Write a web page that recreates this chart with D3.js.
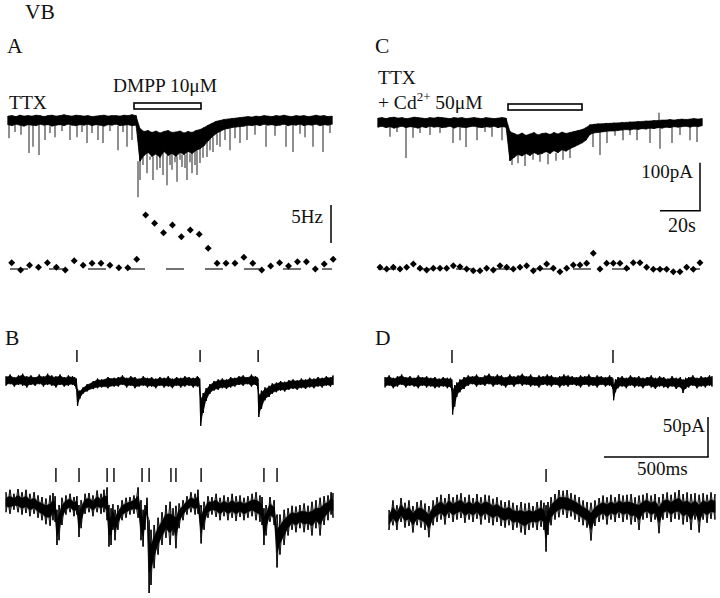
<!DOCTYPE html>
<html><head><meta charset="utf-8">
<script src="https://cdn.jsdelivr.net/npm/d3@7"></script>
<style>
body{margin:0;background:#fff}
svg{display:block}
text{font-family:"Liberation Serif","Times New Roman",serif;fill:#111}
</style></head>
<body><svg id="c" width="720" height="598"></svg>
<script>
// ---------------- DATA ----------------
// Panel A / C slow traces: 2 s sampling, current in pA (upper / lower edge of noise band)
const stepAC = 2;
const traceA_hi = [4,5,3,6,4,5,4,6,5,3,5,6,4,5,7,5,4,6,5,4,5,3,4,5,6,4,5,5,4,6,5,7,5,
  -22,-28,-26,-30,-27,-31,-28,-26,-30,-29,-27,-31,-28,-30,-26,-24,
  -20,-15,-11,-7,-5,-3,-2,-1,0,1,
  2,3,2,4,3,5,4,3,5,4,6,4,3,5,4,5,3,4,6,4,5,3,4];
const traceA_lo = [-14,-16,-13,-15,-17,-14,-15,-16,-13,-15,-14,-17,-15,-14,-16,-13,-15,-16,-14,-15,-13,-16,-14,-15,-17,-14,-15,-13,-16,-15,-14,-16,-15,
  -90,-78,-72,-80,-75,-82,-70,-78,-74,-80,-72,-76,-70,-74,-68,-64,
  -58,-48,-40,-33,-28,-24,-22,-20,-19,-18,
  -17,-15,-16,-14,-16,-13,-15,-14,-16,-15,-13,-16,-14,-15,-13,-16,-14,-15,-13,-16,-14,-15,-13];
// miniature events in A: time (s), peak (pA)
const spikesA_t = [0.5,3.5,6.5,10.5,12.5,15.5,18.5,21,23.5,27,31,34.5,37,39.5,42,45,47.5,51,55,57.5,59.5,62,
  65,66,67.5,69.5,71,72.5,74.5,76,77.5,79.5,81,82,83.5,84.5,86,87,88.5,89.5,91,92,93.5,94.5,96,97.5,
  99.5,101,102.5,104.5,106,108.5,111,113.5,116,119.5,123.5,129,133.5,139,142.5,146,148.5,152.5,157.5,161];
const spikesA_v = [-42,-29,-35,-73,-60,-77,-46,-31,-40,-27,-46,-40,-29,-52,-31,-46,-52,-27,-67,-29,-60,-46,
  -165,-129,-98,-115,-87,-129,-108,-104,-119,-140,-98,-108,-92,-133,-87,-102,-104,-129,-92,-115,-98,-119,-94,-83,
  -81,-67,-71,-56,-60,-46,-67,-42,-52,-46,-35,-60,-37,-60,-71,-33,-40,-60,-71,-31];

const traceC_hi = [4,5,3,5,6,4,5,3,4,6,5,4,3,5,4,6,5,4,3,5,4,5,3,4,5,4,3,5,4,3,4,5,4,
  -24,-28,-31,-27,-32,-29,-26,-31,-28,-27,-30,-26,-29,-25,-28,-26,
  -24,-22,-20,-16,-10,-9,-8,-8,-7,-7,
  -6,-6,-5,-5,-4,-4,-3,-3,-2,-2,-1,-1,0,0,1,0,1,2,1,2,3,2,3];
const traceC_lo = [-15,-13,-16,-14,-17,-15,-13,-16,-14,-15,-17,-14,-16,-13,-15,-14,-16,-15,-13,-17,-14,-15,-16,-14,-13,-15,-16,-14,-15,-13,-16,-14,-15,
  -85,-78,-72,-75,-70,-74,-68,-72,-70,-66,-70,-64,-68,-62,-65,-60,
  -56,-52,-48,-42,-30,-27,-26,-25,-24,-23,
  -23,-22,-21,-20,-21,-19,-20,-18,-19,-17,-18,-16,-17,-15,-16,-14,-15,-14,-13,-15,-13,-14,-12];
const spikesC_t = [6,9.5,14,17.5,21,26,31,37.5,41,44,49.5,53.5,57,62,
  67,70,73.5,77.5,81,85,89,92.5,96,
  107.5,111,114.5,118.5,122.5,126,129.5,136,141,147,151,156,159.5,140.5];
const spikesC_v = [-35,-25,-79,-37,-27,-31,-27,-48,-42,-56,-42,-25,-35,-42,
  -94,-90,-96,-83,-87,-92,-85,-83,-79,
  -56,-73,-48,-33,-42,-31,-42,-48,-60,-48,-31,-42,-46,15];

// drug application bars (s)
const drugA = [63, 96.5];
const drugC = [65, 102];

// event frequency (Hz) per bin
const freqA_bin = 4.465, freqA_t0 = 1.85;
const freqA = [1.49,0.53,1.14,0.88,1.49,0.88,0.53,1.75,1.14,1.41,1.41,1.14,0.83,0.83,1.93,
  7.76,6.67,5.43,6.45,4.91,5.79,5.22,3.38,
  1.41,1.41,1.41,2.2,1.41,0.53,1.05,1.49,1.05,1.62,1.62,0.66,1.32,1.93];
const freqC_bin = 3.333, freqC_t0 = 1;
const freqC = [0.88,0.66,0.88,0.66,0.88,1.32,0.75,0.53,0.75,0.75,0.75,1.09,0.96,0.66,0.43,0.43,0.75,0.53,1.09,0.88,0.66,0.88,1.09,0.43,0.75,1.32,
  0.75,0.30,0.75,1.18,1.18,1.41,2.72,0.66,1.41,1.41,1.41,0.75,1.49,1.49,0.88,0.62,0.62,0.62,0.30,0.30,0.88,0.62,1.49];
const freqBaseline = 0.66;

// Panel B / D fast traces: [time ms, upper pA, lower pA]
const traceB1 = [[0,6,-6],[20,8,-4],[40,5,-7],[60,7,-5],[80,9,-6],[100,6,-8],[120,7,-5],[140,5,-6],[160,8,-4],[180,6,-7],[200,9,-5],[220,7,-6],[240,6,-8],[260,8,-5],[280,5,-7],[300,7,-6],[320,6,-5],
  [330,5,-6],[338,3,-10],[344,-10,-31],[355,-12,-22],[370,-8,-16],[390,-4,-13],[420,0,-10],[440,3,-9],[460,2,-8],[490,5,-9],[520,4,-7],
  [540,5,-7],[560,7,-5],[580,4,-8],[600,6,-6],[620,5,-9],[640,3,-7],[660,6,-6],[680,4,-8],[700,5,-7],[720,3,-9],[740,5,-6],[760,4,-8],[780,6,-7],[800,3,-9],[820,5,-6],[840,4,-8],[860,6,-7],[880,5,-6],[900,4,-8],[920,6,-7],
  [925,5,-6],[931,3,-12],[936,-20,-56],[948,-15,-40],[962,-9,-25],[980,-4,-16],[1000,0,-12],[1020,2,-11],[1040,3,-9],[1060,2,-10],[1080,5,-8],[1100,4,-7],
  [1120,6,-5],[1140,7,-6],[1160,5,-4],[1180,8,-7],[1200,6,-5],
  [1206,5,-6],[1211,3,-10],[1215,-16,-45],[1228,-12,-35],[1245,-8,-24],[1265,-6,-20],[1280,-3,-16],[1300,-2,-14],[1320,0,-12],[1340,-1,-13],[1360,1,-11],[1380,2,-10],[1400,1,-11],[1420,3,-9],[1440,2,-10],[1460,4,-8],[1480,3,-9],[1500,5,-7],[1520,4,-8],[1540,6,-6],[1560,5,-7],[1572,7,-5]];
const ticksB1 = [341, 933, 1212];

const traceB2 = [[0,16,-9],[19,19,-11],[38,14,-6],[58,20,-9],[77,16,-12],[96,19,-10],[115,14,-14],[135,16,-11],[154,12,-16],[173,10,-19],[192,8,-24],[212,12,-26],[226,15,-19],[236,11,-21],[245,-6,-50],[255,0,-44],[269,9,-25],[288,12,-12],[308,14,-9],[327,10,-14],[341,11,-12],[351,0,-40],[361,6,-29],[380,14,-11],[399,15,-9],[418,12,-14],[438,18,-9],[457,14,-11],[471,19,-9],[486,22,-19],[495,0,-52],[505,-4,-50],[514,1,-31],[524,-6,-44],[538,0,-31],[558,6,-19],[577,9,-16],[596,10,-12],[615,12,-11],[635,22,-16],[649,6,-44],[659,-6,-52],[668,0,-31],[678,9,-12],[688,-19,-110],[697,-31,-100],[712,-25,-79],[731,-16,-62],[750,-9,-50],[769,0,-41],[789,4,-50],[803,-4,-38],[817,-1,-54],[832,2,-29],[851,6,-19],[870,11,-12],[889,16,-9],[909,14,-12],[923,19,-11],[938,0,-48],[952,4,-31],[971,11,-16],[990,10,-12],[1010,14,-15],[1029,9,-19],[1048,12,-14],[1067,10,-19],[1087,14,-16],[1106,11,-20],[1125,12,-15],[1144,9,-19],[1163,11,-16],[1183,14,-14],[1202,16,-19],[1221,12,-21],[1231,10,-25],[1240,-4,-50],[1250,0,-38],[1269,10,-21],[1289,6,-25],[1303,-12,-78],[1317,-12,-62],[1337,-6,-50],[1356,-4,-38],[1375,-1,-31],[1394,-2,-34],[1413,0,-29],[1433,2,-34],[1452,-1,-31],[1471,4,-38],[1490,6,-29],[1510,9,-38],[1529,11,-25],[1548,12,-19],[1563,16,-12],[1572,15,-16]];
const ticksB2 = [240, 351, 486, 519, 654, 688, 793, 817, 938, 1240, 1303];

const traceD1 = [[0,5,-8],[20,7,-6],[40,4,-9],[60,6,-7],[80,8,-5],[100,5,-8],[120,6,-6],[140,4,-7],[160,7,-9],[180,5,-6],[200,6,-8],[220,4,-7],[240,5,-9],[260,3,-8],[280,5,-7],[300,4,-9],
  [315,4,-8],[321,2,-12],[325,-8,-42],[335,-5,-32],[345,-2,-20],[360,2,-14],[380,5,-10],
  [400,7,-6],[420,6,-4],[440,8,-7],[460,5,-5],[480,7,-6],[500,9,-4],[520,6,-7],[540,8,-5],[560,7,-6],[580,5,-8],[600,8,-5],[620,6,-7],[640,7,-4],[660,9,-6],[680,6,-5],[700,8,-7],[720,5,-6],[740,7,-8],[760,6,-5],[780,8,-6],[800,7,-7],[820,5,-5],[840,6,-8],[860,8,-6],[880,7,-7],[900,6,-5],[920,5,-6],[940,7,-8],[960,6,-5],[980,8,-7],[1000,5,-6],[1020,7,-8],[1040,6,-5],[1060,5,-7],[1080,7,-6],
  [1090,5,-7],[1095,3,-10],[1099,-4,-24],[1108,2,-14],[1120,5,-9],
  [1140,6,-7],[1160,4,-9],[1180,7,-6],[1200,5,-8],[1220,6,-7],[1240,4,-9],[1260,5,-6],[1280,7,-8],[1300,4,-10],[1320,6,-7],[1340,5,-8],[1360,3,-9],[1380,6,-7],[1400,4,-10],[1420,5,-8],
  [1433,2,-15],[1445,4,-10],[1460,5,-8],[1480,7,-6],[1500,4,-9],[1520,6,-7],[1540,5,-8],[1560,7,-6],[1572,6,-7]];
const ticksD1 = [322, 1096];

const traceD2 = [[0,0,-25],[19,12,-19],[38,6,-25],[58,15,-15],[77,9,-22],[96,12,-20],[115,5,-28],[135,10,-19],[154,12,-22],[173,8,-25],[192,5,-34],[212,12,-19],[231,16,-15],[250,19,-12],[269,15,-18],[288,20,-10],[308,16,-15],[327,19,-12],[346,21,-10],[365,16,-16],[385,19,-12],[404,15,-15],[423,20,-11],[442,16,-18],[462,19,-12],[481,18,-16],[500,14,-19],[519,16,-15],[539,12,-20],[558,10,-22],[577,12,-19],[596,9,-25],[615,6,-22],[635,10,-28],[654,8,-31],[673,9,-25],[692,5,-22],[712,10,-25],[731,12,-21],[745,9,-25],[755,6,-52],[764,10,-31],[779,16,-19],[798,20,-12],[817,25,-9],[837,24,-6],[856,25,-10],[875,21,-8],[894,19,-12],[914,16,-15],[933,12,-19],[952,10,-22],[971,9,-38],[990,12,-20],[1010,15,-15],[1029,18,-12],[1048,16,-18],[1067,19,-12],[1087,16,-15],[1106,20,-10],[1125,18,-15],[1144,19,-12],[1164,20,-18],[1183,16,-15],[1202,18,-25],[1221,19,-12],[1240,21,-10],[1260,18,-15],[1279,20,-12],[1298,16,-29],[1317,20,-12],[1337,22,-10],[1356,19,-15],[1375,22,-11],[1394,25,-12],[1414,20,-18],[1433,22,-15],[1452,20,-25],[1471,21,-12],[1491,19,-28],[1510,21,-12],[1529,19,-16],[1548,22,-11],[1567,20,-12]];
const ticksD2 = [755];

// ---------------- DRAWING ----------------
const svg = d3.select("#c");

// scales
const xA = d3.scaleLinear().domain([0,162]).range([8,332]);
const yA = d3.scaleLinear().domain([0,-100]).range([118,166]);
const xC = d3.scaleLinear().domain([0,162]).range([378,702]);
const yC = d3.scaleLinear().domain([0,-100]).range([120,168]);
const yF = d3.scaleLinear().domain([0,5]).range([274,236]);
const xB1 = d3.scaleLinear().domain([0,1572]).range([6,333]);
const yB1 = d3.scaleLinear().domain([0,-50]).range([381,421]);
const xB2 = d3.scaleLinear().domain([0,1572]).range([6,333]);
const yB2 = d3.scaleLinear().domain([0,-50]).range([505,545]);
const xD1 = d3.scaleLinear().domain([0,1572]).range([385,712]);
const yD1 = d3.scaleLinear().domain([0,-50]).range([381,421]);
const xD2 = d3.scaleLinear().domain([0,1572]).range([389,716]);
const yD2 = d3.scaleLinear().domain([0,-50]).range([510,550]);

// noisy trace: solid core (inset from the envelope), vertical strokes to full
// envelope at every sample, and thin crossing strokes between samples
function trace(rows, x, y, inset, sw) {
  const area = d3.area().x(d=>x(d[0]))
    .y0(d=>y(d[2] + (d[1]-d[2])*inset))
    .y1(d=>y(d[1] - (d[1]-d[2])*inset));
  svg.append("path").datum(rows).attr("d", area)
    .attr("fill","#000").attr("stroke","#000").attr("stroke-width",0.6);
  const zz1 = d3.line().x(d=>x(d[0])).y((d,i)=>y(i%2 ? d[2] : d[1]));
  const zz2 = d3.line().x(d=>x(d[0])).y((d,i)=>y(i%2 ? d[1] : d[2]));
  [zz1, zz2].forEach(l => svg.append("path").datum(rows).attr("d", l)
    .attr("fill","none").attr("stroke","#000").attr("stroke-width",0.8));
  svg.append("g").selectAll("line").data(rows).join("line")
    .attr("x1",d=>x(d[0])).attr("x2",d=>x(d[0]))
    .attr("y1",d=>y(d[1])).attr("y2",d=>y(d[2]))
    .attr("stroke","#000").attr("stroke-width",sw);
}
function spikes(ts, vs, rows, step, x, y) {
  svg.append("g").selectAll("line").data(ts.map((t,i)=>[t,vs[i]])).join("line")
    .attr("x1",d=>x(d[0])).attr("x2",d=>x(d[0]))
    .attr("y1",d=>{ const r = rows[Math.min(rows.length-1, Math.round(d[0]/step))]; return y(d[1] > 0 ? r[1] : r[2]) ; })
    .attr("y2",d=>y(d[1]))
    .attr("stroke","#333").attr("stroke-width",1.1);
}
function ticks(ts, x, yTop, len) {
  svg.append("g").selectAll("line").data(ts).join("line")
    .attr("x1",d=>x(d)).attr("x2",d=>x(d))
    .attr("y1",yTop).attr("y2",yTop+len)
    .attr("stroke","#000").attr("stroke-width",1.4);
}
function label(txt, x, y, size, anchor, len) {
  const t = svg.append("text").attr("x",x).attr("y",y).attr("font-size",size)
    .attr("text-anchor",anchor||"start").text(txt);
  if (len) t.attr("textLength",len).attr("lengthAdjust","spacingAndGlyphs");
  return t;
}
function diamonds(vals, t0, bin, x) {
  const sym = d3.symbol().type(d3.symbolSquare).size(24);
  svg.append("g").selectAll("path").data(vals).join("path")
    .attr("d", sym)
    .attr("transform",(d,i)=>`translate(${x(t0+i*bin)},${yF(d)}) rotate(45)`)
    .attr("fill","#000");
}

// Panel A
const rowsA = traceA_hi.map((h,i)=>[i*stepAC, h, traceA_lo[i]]);
spikes(spikesA_t, spikesA_v, rowsA, stepAC, xA, yA);
trace(rowsA, xA, yA, 0, 1);
svg.append("rect").attr("x",xA(drugA[0])).attr("y",103).attr("width",xA(drugA[1])-xA(drugA[0])).attr("height",6)
  .attr("fill","#fff").attr("stroke","#000").attr("stroke-width",1.6);

// Panel C
const rowsC = traceC_hi.map((h,i)=>[i*stepAC, h, traceC_lo[i]]);
spikes(spikesC_t, spikesC_v, rowsC, stepAC, xC, yC);
trace(rowsC, xC, yC, 0, 1);
svg.append("rect").attr("x",xC(drugC[0])).attr("y",104).attr("width",xC(drugC[1])-xC(drugC[0])).attr("height",6)
  .attr("fill","#fff").attr("stroke","#000").attr("stroke-width",1.6);

// frequency plots
svg.append("line").attr("x1",xA(1)).attr("x2",xA(162)).attr("y1",yF(freqBaseline)).attr("y2",yF(freqBaseline))
  .attr("stroke","#444").attr("stroke-width",1.4).attr("stroke-dasharray","18,21");
svg.append("line").attr("x1",xC(0)).attr("x2",xC(161)).attr("y1",yF(freqBaseline)).attr("y2",yF(freqBaseline))
  .attr("stroke","#444").attr("stroke-width",1.4).attr("stroke-dasharray","18,21");
diamonds(freqA, freqA_t0, freqA_bin, xA);
diamonds(freqC, freqC_t0, freqC_bin, xC);

// B / D traces
trace(traceB1, xB1, yB1, 0.12, 1.2); ticks(ticksB1, xB1, 350, 12);
trace(traceB2, xB2, yB2, 0.28, 1.2); ticks(ticksB2, xB2, 468, 14);
trace(traceD1, xD1, yD1, 0.12, 1.2); ticks(ticksD1, xD1, 350, 13);
trace(traceD2, xD2, yD2, 0.28, 1.2); ticks(ticksD2, xD2, 469, 13);

// scale bars
const sb = svg.append("g").attr("stroke","#000").attr("stroke-width",1.5).attr("fill","none");
// 5 Hz
sb.append("line").attr("x1",331).attr("x2",331).attr("y1",243-(yF(0)-yF(5))).attr("y2",243);
// 100 pA / 20 s
sb.append("line").attr("x1",700).attr("x2",700).attr("y1",210.7-(yC(-100)-yC(0))).attr("y2",210.7);
sb.append("line").attr("x1",700-(xC(20)-xC(0))).attr("x2",700.7).attr("y1",210.7).attr("y2",210.7);
// 50 pA / 500 ms
sb.append("line").attr("x1",708).attr("x2",708).attr("y1",457-(yD2(-50)-yD2(0))).attr("y2",457);
sb.append("line").attr("x1",708-(xD2(500)-xD2(0))).attr("x2",708.7).attr("y1",457).attr("y2",457);

// labels
label("VB", 25, 19, 21.5);
label("A", 7, 53, 21.5);
label("C", 375, 53, 21.5);
label("B", 5, 345, 21.5);
label("D", 375, 345, 21.5);
label("TTX", 9, 109, 19.5);
label("DMPP 10\u03bcM", 113, 92, 19.5, "start", 104);
label("TTX", 378, 84, 19.5);
const cd = label("+ Cd", 378, 109, 19.5);
cd.append("tspan").attr("dy",-8).attr("font-size",13).text("2+");
cd.append("tspan").attr("dy",8).text(" 50\u03bcM");
label("5Hz", 323, 223, 19, "end");
label("100pA", 693, 178, 19, "end");
label("20s", 668, 232, 20);
label("50pA", 705, 432, 19, "end");
label("500ms", 637, 475, 19);
</script></body></html>
